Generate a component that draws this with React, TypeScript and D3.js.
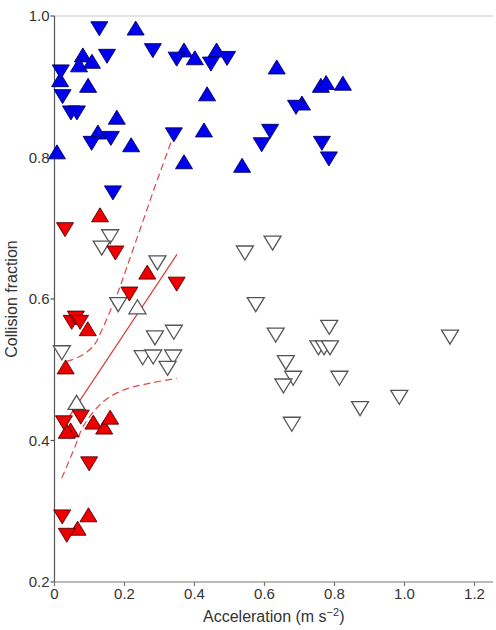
import React from "react";
import * as d3 from "d3";

const xTicks = [0, 0.2, 0.4, 0.6, 0.8, 1.0, 1.2];
const xTickLabels = ["0", "0.2", "0.4", "0.6", "0.8", "1.0", "1.2"];
const yTicks = [0.2, 0.4, 0.6, 0.8, 1.0];
const yTickLabels = ["0.2", "0.4", "0.6", "0.8", "1.0"];

const blueDown: [number, number][] = [
  [0.128, 0.982], [0.281, 0.951], [0.349, 0.939], [0.447, 0.932], [0.493, 0.94],
  [0.018, 0.921], [0.15, 0.943], [0.023, 0.886], [0.047, 0.863], [0.064, 0.863],
  [0.106, 0.82], [0.161, 0.827], [0.341, 0.832], [0.69, 0.871], [0.616, 0.837],
  [0.592, 0.818], [0.764, 0.82], [0.784, 0.798], [0.167, 0.75],
];
const blueUp: [number, number][] = [
  [0.232, 0.983], [0.37, 0.952], [0.401, 0.941], [0.463, 0.952], [0.016, 0.91],
  [0.081, 0.945], [0.07, 0.931], [0.107, 0.936], [0.096, 0.902], [0.635, 0.928],
  [0.436, 0.89], [0.761, 0.902], [0.776, 0.906], [0.824, 0.905], [0.707, 0.877],
  [0.427, 0.839], [0.536, 0.789], [0.178, 0.857], [0.124, 0.836], [0.219, 0.818],
  [0.37, 0.794], [0.007, 0.808],
];
const redUp: [number, number][] = [
  [0.13, 0.719], [0.265, 0.638], [0.095, 0.558], [0.032, 0.504], [0.046, 0.415],
  [0.035, 0.413], [0.111, 0.426], [0.142, 0.419], [0.159, 0.433], [0.066, 0.276],
  [0.097, 0.295],
];
const redDown: [number, number][] = [
  [0.03, 0.698], [0.174, 0.665], [0.349, 0.621], [0.214, 0.607], [0.049, 0.567],
  [0.061, 0.573], [0.073, 0.567], [0.027, 0.425], [0.075, 0.433], [0.099, 0.367],
  [0.022, 0.292], [0.035, 0.266],
];
const whiteDown: [number, number][] = [
  [0.159, 0.688], [0.135, 0.672], [0.294, 0.651], [0.182, 0.592], [0.341, 0.553],
  [0.287, 0.545], [0.252, 0.517], [0.282, 0.518], [0.339, 0.518], [0.323, 0.502],
  [0.021, 0.524], [0.623, 0.679], [0.544, 0.665], [0.575, 0.592], [0.632, 0.549],
  [0.785, 0.56], [0.754, 0.531], [0.77, 0.531], [0.787, 0.531], [1.13, 0.546],
  [0.661, 0.51], [0.682, 0.488], [0.654, 0.477], [0.814, 0.488], [0.985, 0.461],
  [0.873, 0.445], [0.678, 0.423],
];
const whiteUp: [number, number][] = [
  [0.237, 0.589], [0.063, 0.454],
];
const fitLine: [number, number][] = [
  [0.03, 0.425], [0.35, 0.663],
];
const upperBand: [number, number][] = [
  [0.035, 0.512], [0.049, 0.514], [0.087, 0.523], [0.116, 0.537], [0.135, 0.556],
  [0.16, 0.584], [0.187, 0.617], [0.206, 0.644], [0.23, 0.678], [0.259, 0.719],
  [0.287, 0.759], [0.345, 0.838],
];
const lowerBand: [number, number][] = [
  [0.021, 0.347], [0.059, 0.392], [0.081, 0.419], [0.121, 0.446], [0.153, 0.46],
  [0.206, 0.473], [0.273, 0.481], [0.349, 0.488],
];

const W = 496;
const H = 630;
const x = d3.scaleLinear().domain([0, 1.2]).range([54.5, 474.5]);
const y = d3.scaleLinear().domain([0.2, 1.0]).range([582, 16]);
const xEnd = 493;

const hw = 8.5;
const hh = 7;
const upPath = `M0,${-hh}L${hw},${hh}L${-hw},${hh}Z`;
const downPath = `M0,${hh}L${hw},${-hh}L${-hw},${-hh}Z`;

const line = d3
  .line<[number, number]>()
  .x((d) => x(d[0]))
  .y((d) => y(d[1]));
const smooth = d3
  .line<[number, number]>()
  .x((d) => x(d[0]))
  .y((d) => y(d[1]))
  .curve(d3.curveCatmullRom.alpha(0.5));

const font = "Arial, 'Liberation Sans', Helvetica, sans-serif";

function Markers({ data, path, fill, stroke, sw }: { data: [number, number][]; path: string; fill: string; stroke: string; sw: number }) {
  return (
    <g>
      {data.map((d, i) => (
        <path key={i} d={path} transform={`translate(${x(d[0])},${y(d[1])})`} fill={fill} stroke={stroke} strokeWidth={sw} strokeLinejoin="miter" />
      ))}
    </g>
  );
}

export default function App() {
  return (
    <svg width={W} height={H} style={{ position: "absolute", left: 0, top: 0, background: "#fff" }} fontFamily={font}>
      <rect x={0} y={0} width={W} height={H} fill="#fff" />
      {/* top border */}
      <line x1={x(0)} x2={xEnd} y1={y(1.0)} y2={y(1.0)} stroke="#c8c8c8" strokeWidth={1.2} />
      {/* axes */}
      <line x1={x(0)} x2={x(0)} y1={y(1.0)} y2={y(0.2)} stroke="#555" strokeWidth={1.2} />
      <line x1={x(0)} x2={xEnd} y1={y(0.2)} y2={y(0.2)} stroke="#777" strokeWidth={1.2} />
      {yTicks.map((t, i) => (
        <g key={i}>
          <line x1={x(0) - 4} x2={x(0)} y1={y(t)} y2={y(t)} stroke="#555" strokeWidth={1.2} />
          <text x={x(0) - 5} y={y(t)} dy="0.35em" textAnchor="end" fontSize={15} fill="#333">
            {yTickLabels[i]}
          </text>
        </g>
      ))}
      {xTicks.map((t, i) => (
        <g key={i}>
          <line x1={x(t)} x2={x(t)} y1={y(0.2)} y2={y(0.2) + 4} stroke="#777" strokeWidth={1.2} />
          <text x={x(t)} y={y(0.2) + 17} textAnchor="middle" fontSize={15} fill="#333">
            {xTickLabels[i]}
          </text>
        </g>
      ))}
      <text x={(x(0) + xEnd) / 2} y={622} textAnchor="middle" fontSize={16} fill="#333">
        Acceleration (m s
        <tspan fontSize={11} dy={-6}>−2</tspan>
        <tspan dy={6}>)</tspan>
      </text>
      <text transform={`translate(17,${(y(1.0) + y(0.2)) / 2}) rotate(-90)`} textAnchor="middle" fontSize={16} fill="#333">
        Collision fraction
      </text>

      {/* regression line and confidence band */}
      <path d={line(fitLine) || ""} fill="none" stroke="#e03a3a" strokeWidth={1.2} />
      <path d={smooth(upperBand) || ""} fill="none" stroke="#e04848" strokeWidth={1.2} strokeDasharray="7,4" />
      <path d={smooth(lowerBand) || ""} fill="none" stroke="#e04848" strokeWidth={1.2} strokeDasharray="7,4" />

      <Markers data={whiteDown} path={downPath} fill="#fff" stroke="#555" sw={1.3} />
      <Markers data={whiteUp} path={upPath} fill="#fff" stroke="#555" sw={1.3} />
      <Markers data={redUp} path={upPath} fill="#ee0000" stroke="#500" sw={0.9} />
      <Markers data={redDown} path={downPath} fill="#ee0000" stroke="#500" sw={0.9} />
      <Markers data={blueUp} path={upPath} fill="#0000ee" stroke="#000060" sw={0.9} />
      <Markers data={blueDown} path={downPath} fill="#0000ee" stroke="#000060" sw={0.9} />
    </svg>
  );
}
